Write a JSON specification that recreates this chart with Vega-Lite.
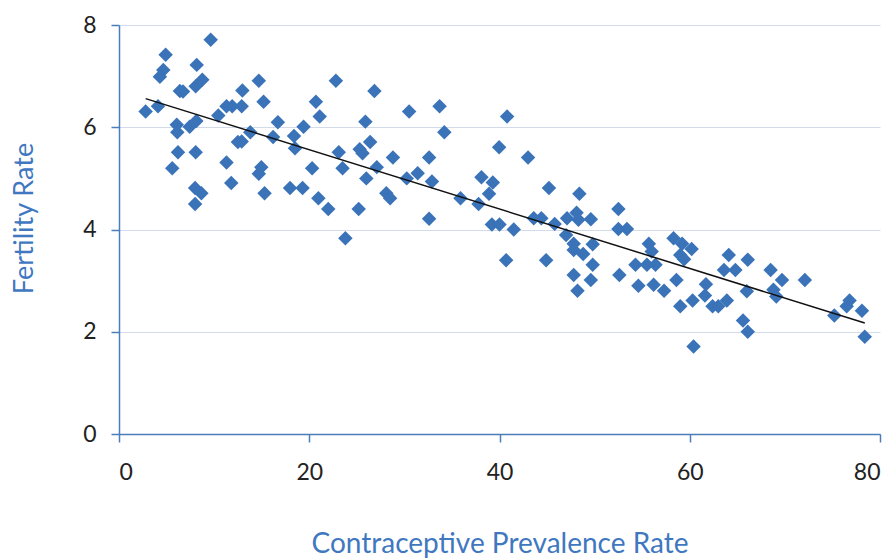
{
  "$schema": "https://vega.github.io/schema/vega-lite/v6.json",
  "width": 761,
  "height": 409,
  "autosize": {"type": "none"},
  "padding": {"left": 119, "top": 25, "right": 15, "bottom": 126},
  "background": "white",
  "config": {"view": {"stroke": null}, "font": "Lato"},
  "datasets": {
    "points": [
      {"cpr": 2.8, "fr": 6.31}, {"cpr": 4.1, "fr": 6.41}, {"cpr": 4.9, "fr": 7.42}, {"cpr": 4.66, "fr": 7.12},
      {"cpr": 4.3, "fr": 6.99}, {"cpr": 9.64, "fr": 7.71}, {"cpr": 8.17, "fr": 7.22}, {"cpr": 8.76, "fr": 6.93},
      {"cpr": 8.06, "fr": 6.8}, {"cpr": 6.4, "fr": 6.71}, {"cpr": 6.73, "fr": 6.7}, {"cpr": 6.07, "fr": 6.05},
      {"cpr": 6.13, "fr": 5.9}, {"cpr": 7.43, "fr": 6.01}, {"cpr": 8.13, "fr": 6.12}, {"cpr": 6.2, "fr": 5.51},
      {"cpr": 5.6, "fr": 5.2}, {"cpr": 8.06, "fr": 5.51}, {"cpr": 8.0, "fr": 4.81}, {"cpr": 8.66, "fr": 4.71},
      {"cpr": 8.0, "fr": 4.5}, {"cpr": 10.44, "fr": 6.23}, {"cpr": 11.3, "fr": 6.41}, {"cpr": 11.9, "fr": 6.41},
      {"cpr": 12.97, "fr": 6.72}, {"cpr": 12.9, "fr": 6.41}, {"cpr": 11.3, "fr": 5.31}, {"cpr": 11.8, "fr": 4.91},
      {"cpr": 12.5, "fr": 5.71}, {"cpr": 12.9, "fr": 5.72}, {"cpr": 13.8, "fr": 5.9}, {"cpr": 14.7, "fr": 6.91},
      {"cpr": 15.2, "fr": 6.5}, {"cpr": 14.96, "fr": 5.22}, {"cpr": 14.7, "fr": 5.09}, {"cpr": 15.3, "fr": 4.71},
      {"cpr": 16.2, "fr": 5.81}, {"cpr": 16.7, "fr": 6.1}, {"cpr": 18.5, "fr": 5.59}, {"cpr": 18.4, "fr": 5.83},
      {"cpr": 19.4, "fr": 6.01}, {"cpr": 20.7, "fr": 6.5}, {"cpr": 21.1, "fr": 6.21}, {"cpr": 22.8, "fr": 6.91},
      {"cpr": 26.85, "fr": 6.71}, {"cpr": 25.9, "fr": 6.11}, {"cpr": 30.5, "fr": 6.31}, {"cpr": 33.7, "fr": 6.41},
      {"cpr": 20.3, "fr": 5.2}, {"cpr": 17.98, "fr": 4.81}, {"cpr": 19.3, "fr": 4.81}, {"cpr": 20.96, "fr": 4.61},
      {"cpr": 22.0, "fr": 4.4}, {"cpr": 23.1, "fr": 5.51}, {"cpr": 23.5, "fr": 5.2}, {"cpr": 25.2, "fr": 4.4},
      {"cpr": 25.3, "fr": 5.57}, {"cpr": 25.6, "fr": 5.49}, {"cpr": 26.4, "fr": 5.71}, {"cpr": 26.0, "fr": 5.0},
      {"cpr": 27.1, "fr": 5.22}, {"cpr": 28.1, "fr": 4.71}, {"cpr": 28.5, "fr": 4.61}, {"cpr": 28.8, "fr": 5.41},
      {"cpr": 30.25, "fr": 5.0}, {"cpr": 31.4, "fr": 5.1}, {"cpr": 32.6, "fr": 5.41}, {"cpr": 32.9, "fr": 4.94},
      {"cpr": 32.6, "fr": 4.21}, {"cpr": 23.8, "fr": 3.83}, {"cpr": 34.2, "fr": 5.9}, {"cpr": 40.8, "fr": 6.21},
      {"cpr": 39.96, "fr": 5.61}, {"cpr": 43.0, "fr": 5.41}, {"cpr": 38.1, "fr": 5.02}, {"cpr": 39.3, "fr": 4.92},
      {"cpr": 38.9, "fr": 4.7}, {"cpr": 35.9, "fr": 4.61}, {"cpr": 37.8, "fr": 4.5}, {"cpr": 45.2, "fr": 4.81},
      {"cpr": 48.4, "fr": 4.7}, {"cpr": 39.2, "fr": 4.1}, {"cpr": 40.0, "fr": 4.1}, {"cpr": 41.5, "fr": 4.0},
      {"cpr": 43.6, "fr": 4.22}, {"cpr": 44.4, "fr": 4.22}, {"cpr": 45.8, "fr": 4.11}, {"cpr": 47.1, "fr": 4.22},
      {"cpr": 48.1, "fr": 4.33}, {"cpr": 48.3, "fr": 4.19}, {"cpr": 49.6, "fr": 4.2}, {"cpr": 47.0, "fr": 3.89},
      {"cpr": 47.8, "fr": 3.72}, {"cpr": 47.8, "fr": 3.6}, {"cpr": 48.8, "fr": 3.52}, {"cpr": 49.8, "fr": 3.71},
      {"cpr": 40.7, "fr": 3.4}, {"cpr": 44.9, "fr": 3.4}, {"cpr": 47.8, "fr": 3.11}, {"cpr": 48.2, "fr": 2.8},
      {"cpr": 49.6, "fr": 3.01}, {"cpr": 49.8, "fr": 3.31}, {"cpr": 52.5, "fr": 4.4}, {"cpr": 52.5, "fr": 4.01},
      {"cpr": 53.4, "fr": 4.01}, {"cpr": 52.6, "fr": 3.11}, {"cpr": 54.3, "fr": 3.31}, {"cpr": 54.6, "fr": 2.9},
      {"cpr": 55.7, "fr": 3.72}, {"cpr": 56.0, "fr": 3.57}, {"cpr": 55.5, "fr": 3.31}, {"cpr": 56.4, "fr": 3.31},
      {"cpr": 56.2, "fr": 2.92}, {"cpr": 57.3, "fr": 2.8}, {"cpr": 58.3, "fr": 3.83}, {"cpr": 59.2, "fr": 3.72},
      {"cpr": 59.0, "fr": 3.5}, {"cpr": 59.4, "fr": 3.42}, {"cpr": 60.2, "fr": 3.62}, {"cpr": 58.6, "fr": 3.01},
      {"cpr": 59.0, "fr": 2.5}, {"cpr": 60.3, "fr": 2.61}, {"cpr": 61.7, "fr": 2.93}, {"cpr": 61.6, "fr": 2.71},
      {"cpr": 62.4, "fr": 2.5}, {"cpr": 63.0, "fr": 2.5}, {"cpr": 63.9, "fr": 2.61}, {"cpr": 64.1, "fr": 3.5},
      {"cpr": 63.6, "fr": 3.21}, {"cpr": 64.8, "fr": 3.21}, {"cpr": 66.1, "fr": 3.41}, {"cpr": 66.0, "fr": 2.79},
      {"cpr": 65.6, "fr": 2.22}, {"cpr": 66.1, "fr": 2.0}, {"cpr": 60.4, "fr": 1.71}, {"cpr": 68.5, "fr": 3.21},
      {"cpr": 69.7, "fr": 3.01}, {"cpr": 68.8, "fr": 2.82}, {"cpr": 69.1, "fr": 2.69}, {"cpr": 72.1, "fr": 3.01},
      {"cpr": 75.2, "fr": 2.32}, {"cpr": 76.5, "fr": 2.5}, {"cpr": 76.8, "fr": 2.61}, {"cpr": 78.1, "fr": 2.41},
      {"cpr": 78.4, "fr": 1.9}
    ],
    "trend": [{"cpr": 2.8, "fr": 6.56}, {"cpr": 78.4, "fr": 2.17}]
  },
  "layer": [
    {
      "data": {"name": "points"},
      "mark": {"type": "point", "shape": "diamond", "filled": true, "size": 210, "color": "#3b73b9", "opacity": 1},
      "encoding": {
        "x": {
          "field": "cpr", "type": "quantitative",
          "scale": {"domain": [0, 80], "nice": false, "zero": false},
          "axis": {
            "title": "Contraceptive Prevalence Rate", "values": [0, 20, 40, 60, 80], "grid": false,
            "domainColor": "#4a7ebb", "domainWidth": 1.5, "tickColor": "#4a7ebb", "tickWidth": 1.5, "tickSize": 8,
            "labelFontSize": 23, "labelColor": "#222222", "labelPadding": 19, "labelFont": "Lato",
            "titleFontSize": 28, "titleColor": "#3f78c0", "titleFontWeight": "normal", "titleFont": "Lato", "titlePadding": 46
          }
        },
        "y": {
          "field": "fr", "type": "quantitative",
          "scale": {"domain": [0, 8], "nice": false, "zero": false},
          "axis": {
            "title": "Fertility Rate", "values": [0, 2, 4, 6, 8], "grid": true, "gridColor": "#d3daea", "gridWidth": 1.2,
            "domainColor": "#4a7ebb", "domainWidth": 1.5, "tickColor": "#4a7ebb", "tickWidth": 1.5, "tickSize": 8,
            "labelFontSize": 23, "labelColor": "#222222", "labelPadding": 15, "labelFont": "Lato",
            "titleFontSize": 27, "titleColor": "#3f78c0", "titleFontWeight": "normal", "titleFont": "Lato", "titlePadding": 44,
            "titleY": 193
          }
        }
      }
    },
    {
      "data": {"name": "trend"},
      "mark": {"type": "line", "color": "#111111", "strokeWidth": 1.5},
      "encoding": {
        "x": {"field": "cpr", "type": "quantitative"},
        "y": {"field": "fr", "type": "quantitative"}
      }
    }
  ]
}
